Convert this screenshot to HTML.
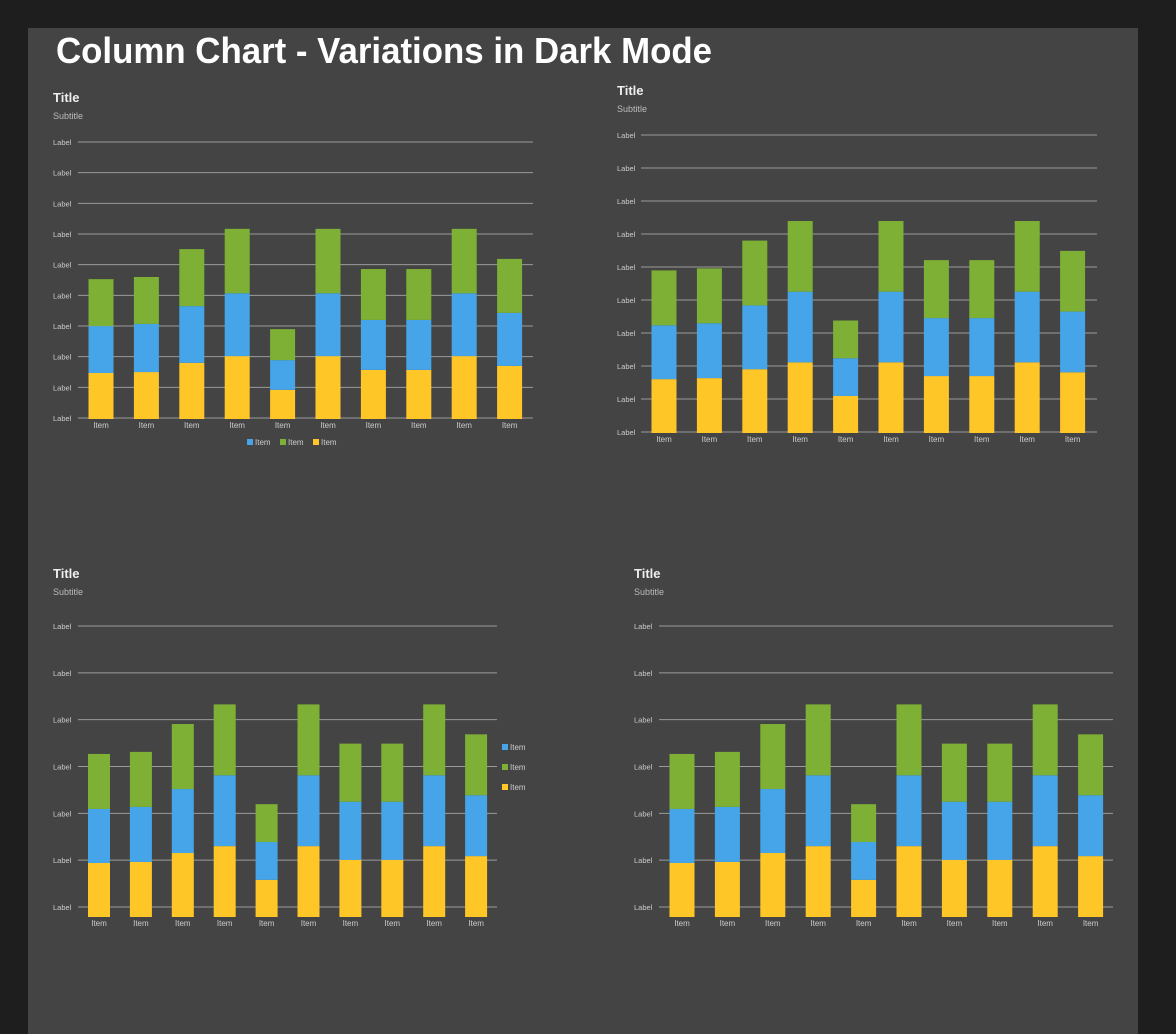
<!DOCTYPE html>
<html><head><meta charset="utf-8">
<style>
html,body{margin:0;padding:0;background:#1e1e1e;width:1176px;height:1034px;overflow:hidden;font-family:"Liberation Sans",sans-serif;}
svg{display:block}
</style></head>
<body>
<svg id="page" width="1176" height="1034" xmlns="http://www.w3.org/2000/svg" font-family="Liberation Sans, sans-serif">
<rect x="0" y="0" width="1176" height="1034" fill="#1e1e1e"/>
<rect x="28" y="28" width="1110" height="1010" fill="#444444"/>
<text x="56" y="63" font-size="36" font-weight="bold" fill="#ffffff" textLength="656" lengthAdjust="spacingAndGlyphs">Column Chart - Variations in Dark Mode</text>
</svg>
<script>
const categories = ["Item","Item","Item","Item","Item","Item","Item","Item","Item","Item"];
// dataset A (top-left chart)
const yellowValuesA = [1.5,1.53,1.83,2.05,0.95,2.05,1.6,1.6,2.05,1.73];
const blueValuesA = [1.53,1.57,1.85,2.05,0.97,2.05,1.63,1.63,2.05,1.73];
const greenValuesA = [1.53,1.53,1.86,2.1,1.01,2.1,1.66,1.66,2.1,1.76];
// dataset B (other charts)
const yellowValuesB = [1.57,1.6,1.86,2.06,1.08,2.06,1.66,1.66,2.06,1.77];
const blueValuesB = [1.57,1.6,1.86,2.06,1.1,2.06,1.69,1.69,2.06,1.77];
const greenValuesB = [1.6,1.6,1.89,2.06,1.1,2.06,1.69,1.69,2.06,1.77];
const seriesNames = ["Item","Item","Item"];
const tickLabels = ["Label","Label","Label","Label","Label","Label","Label","Label","Label","Label"];

const NS = "http://www.w3.org/2000/svg";
const svg = document.getElementById('page');
function mk(tag, attrs, parent, txt){
  const e = document.createElementNS(NS, tag);
  for (const k in attrs) e.setAttribute(k, attrs[k]);
  if (txt !== undefined) e.textContent = txt;
  (parent||svg).appendChild(e);
  return e;
}
const COLORS = {yellow:"#ffc628", blue:"#45a5e8", green:"#7db035"};

function chart(cfg, ys, bs, gs){
  const g = mk('g', {});
  
  
  const t = mk('text', {x:cfg.labelX, y:cfg.titleY, 'font-size':13, 'font-weight':'bold', fill:'#eeeeee'}, g, 'Title');
  
  
  const s = mk('text', {x:cfg.labelX, y:cfg.titleY+17, 'font-size':9, fill:'#bbbbbb'}, g, 'Subtitle');
  
  
  const n = cfg.nGrid;
  for (let i=0;i<n;i++){
    const y = cfg.gridTop + (cfg.gridBottom-cfg.gridTop)*i/(n-1);
    const l = mk('line', {x1:cfg.lineX1, x2:cfg.lineX2, y1:y, y2:y, stroke:'#9a9a9a', 'stroke-width':1}, g);
    
    
    const lb = mk('text', {x:cfg.labelX, y:y+3, 'font-size':7.5, fill:'#cccccc'}, g, tickLabels[i % tickLabels.length]);
    
    
  }
  const yScale = v => cfg.barBottom - v*cfg.unit;
  const xCenter = i => cfg.x0 + i*cfg.step;
  categories.forEach((c,i)=>{
    const cx = xCenter(i);
    let acc = 0;
    [[ys,'yellow'],[bs,'blue'],[gs,'green']].forEach(([arr,col])=>{
      const y1 = yScale(acc), y2 = yScale(acc+arr[i]);
      const r = mk('rect', {x:cx-cfg.bw/2, y:y2, width:cfg.bw, height:y1-y2, fill:COLORS[col]}, g);
      
      
      acc += arr[i];
    });
    const xl = mk('text', {x:cx, y:cfg.itemY, 'font-size':8, fill:'#cccccc', 'text-anchor':'middle'}, g, c);
    
    
  });
  const legCols = ['blue','green','yellow'];
  if (cfg.legend === 'bottom'){
    legCols.forEach((col,k)=>{
      const lx = cfg.legX + k*33;
      const sw = mk('rect', {x:lx, y:cfg.legY-6, width:6, height:6, fill:COLORS[col]}, g);
      
      
      const lt = mk('text', {x:lx+8, y:cfg.legY, 'font-size':8, fill:'#cccccc'}, g, seriesNames[k]);
      
      
    });
  } else if (cfg.legend === 'right'){
    legCols.forEach((col,k)=>{
      const ly = cfg.legY + k*20;
      const sw = mk('rect', {x:cfg.legX, y:ly-6, width:6, height:6, fill:COLORS[col]}, g);
      
      
      const lt = mk('text', {x:cfg.legX+8, y:ly, 'font-size':8, fill:'#cccccc'}, g, seriesNames[k]);
      
      
    });
  }
}

chart({name:'chart-top-left', labelX:53, titleY:102, lineX1:78, lineX2:533, gridTop:142, gridBottom:418, nGrid:10,
  barBottom:419, unit:30.67, x0:101, step:45.4, bw:25, itemY:428, legend:'bottom', legX:247, legY:445},
  yellowValuesA, blueValuesA, greenValuesA);
chart({name:'chart-top-right', labelX:617, titleY:95, lineX1:641, lineX2:1097, gridTop:135, gridBottom:432, nGrid:10,
  barBottom:433, unit:34.3, x0:664, step:45.4, bw:25, itemY:442, legend:'none'},
  yellowValuesB, blueValuesB, greenValuesB);
chart({name:'chart-bottom-left', labelX:53, titleY:578, lineX1:78, lineX2:497, gridTop:626, gridBottom:907, nGrid:7,
  barBottom:917, unit:34.4, x0:99, step:41.9, bw:22, itemY:926, legend:'right', legX:502, legY:750},
  yellowValuesB, blueValuesB, greenValuesB);
chart({name:'chart-bottom-right', labelX:634, titleY:578, lineX1:659, lineX2:1113, gridTop:626, gridBottom:907, nGrid:7,
  barBottom:917, unit:34.4, x0:682, step:45.4, bw:25, itemY:926, legend:'none'},
  yellowValuesB, blueValuesB, greenValuesB);
</script>
</body></html>
